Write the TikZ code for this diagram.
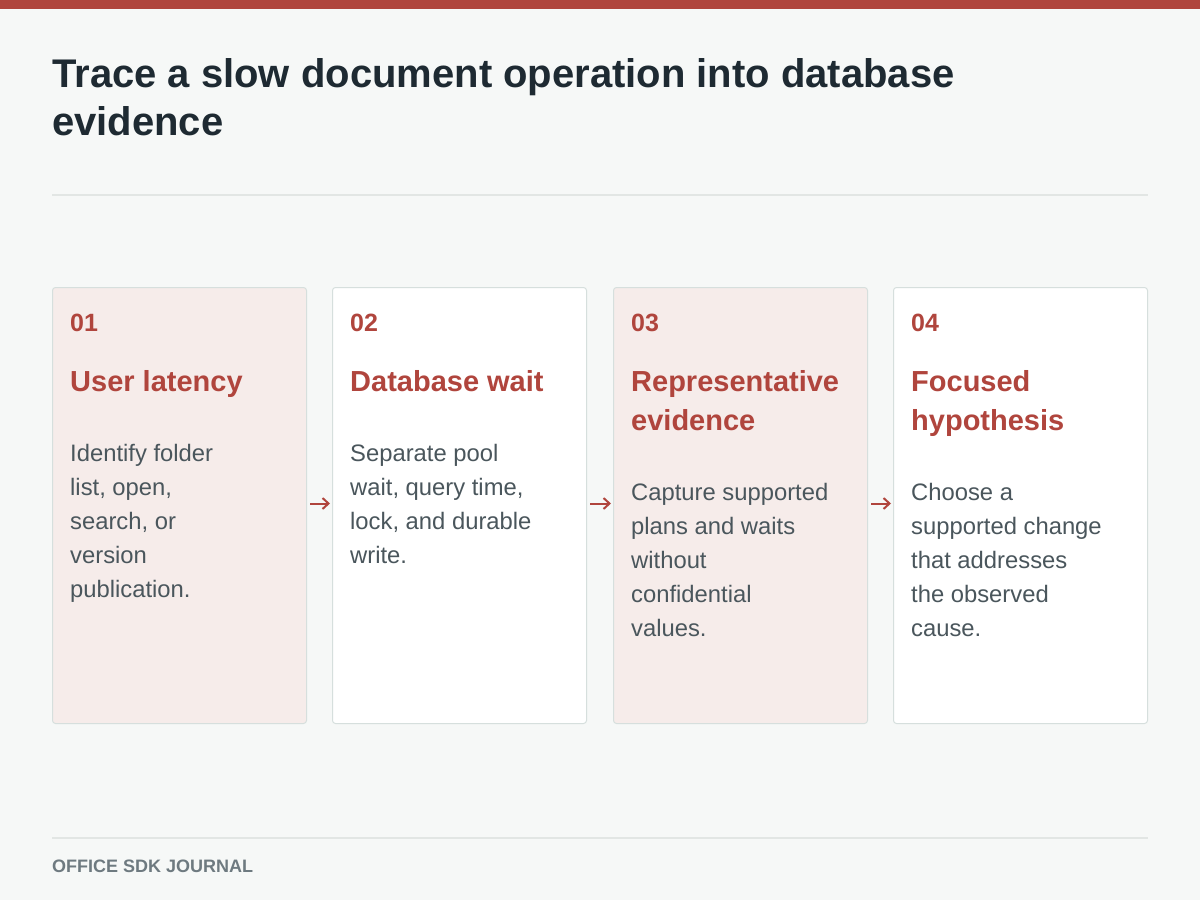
\documentclass[tikz,border=0pt]{standalone}
\usepackage{fontspec}
\setmainfont{Liberation Sans}
\usetikzlibrary{arrows.meta}
\definecolor{bg}{HTML}{F6F8F7}
\definecolor{accent}{HTML}{B0453D}
\definecolor{titlec}{HTML}{1E2A32}
\definecolor{bodyc}{HTML}{4A565C}
\definecolor{footc}{HTML}{6E7A80}
\definecolor{rulec}{HTML}{E2E6E4}
\definecolor{boxline}{HTML}{D6DFDD}
\definecolor{pinkfill}{HTML}{F6ECEA}
\tikzset{
  card/.style={draw=boxline, line width=1pt, rounded corners=3pt, minimum width=254pt, minimum height=436pt, anchor=north west, inner sep=0pt},
  numtxt/.style={anchor=base west, inner sep=0pt, text=accent, font=\fontsize{25}{30}\selectfont\bfseries},
  headtxt/.style={anchor=base west, inner sep=0pt, text=accent, font=\fontsize{29}{34}\selectfont\bfseries},
  bodytxt/.style={anchor=base west, inner sep=0pt, text=bodyc, font=\fontsize{23.8}{30}\selectfont},
  titletxt/.style={anchor=base west, inner sep=0pt, text=titlec, font=\fontsize{40}{48}\selectfont\bfseries},
  flow/.style={draw=accent, line width=2pt, -{Straight Barb[length=6pt,width=11pt,line width=2pt]}}
}
\begin{document}
\begin{tikzpicture}[x=1pt,y=-1pt]
\useasboundingbox (0,0) rectangle (1200,900);
\fill[bg] (0,0) rectangle (1200,900);
\fill[accent] (0,0) rectangle (1200,9);
% title
\node[titletxt] (t1) at (52,87) {Trace a slow document operation into database};
\node[titletxt] (t2) at (52,135) {evidence};
\draw[rulec, line width=1.2pt] (52,195) -- (1148,195);
% cards
\node[card, fill=pinkfill] (c1) at (52,287) {};
\node[card, fill=white] (c2) at (332,287) {};
\node[card, fill=pinkfill] (c3) at (613,287) {};
\node[card, fill=white] (c4) at (893,287) {};
% card 1
\node[numtxt] (n1) at (70,331) {01};
\node[headtxt] (h1) at (70,391) {User latency};
\foreach \t [count=\k] in {{Identify folder},{list, open,},{search, or},{version},{publication.}}
  \node[bodytxt] (b1l\k) at (70,{461+34*(\k-1)}) {\t};
% card 2
\node[numtxt] (n2) at (350,331) {02};
\node[headtxt] (h2) at (350,391) {Database wait};
\foreach \t [count=\k] in {{Separate pool},{wait, query time,},{lock, and durable},{write.}}
  \node[bodytxt] (b2l\k) at (350,{461+34*(\k-1)}) {\t};
% card 3
\node[numtxt] (n3) at (631,331) {03};
\node[headtxt] (h3a) at (631,391) {Representative};
\node[headtxt] (h3b) at (631,430) {evidence};
\foreach \t [count=\k] in {{Capture supported},{plans and waits},{without},{confidential},{values.}}
  \node[bodytxt] (b3l\k) at (631,{500+34*(\k-1)}) {\t};
% card 4
\node[numtxt] (n4) at (911,331) {04};
\node[headtxt] (h4a) at (911,391) {Focused};
\node[headtxt] (h4b) at (911,430) {hypothesis};
\foreach \t [count=\k] in {{Choose a},{supported change},{that addresses},{the observed},{cause.}}
  \node[bodytxt] (b4l\k) at (911,{500+34*(\k-1)}) {\t};
% arrows
\draw[flow] ([xshift=3pt,yshift=2pt]c1.east) -- ([xshift=-2pt,yshift=2pt]c2.west);
\draw[flow] ([xshift=3pt,yshift=2pt]c2.east) -- ([xshift=-2pt,yshift=2pt]c3.west);
\draw[flow] ([xshift=3pt,yshift=2pt]c3.east) -- ([xshift=-2pt,yshift=2pt]c4.west);
% footer
\draw[rulec, line width=1.2pt] (52,838) -- (1148,838);
\node[anchor=base west, inner sep=0pt, text=footc, font=\fontsize{18}{20}\selectfont\bfseries] (foot) at (52,872) {OFFICE SDK JOURNAL};
\end{tikzpicture}
\end{document}
